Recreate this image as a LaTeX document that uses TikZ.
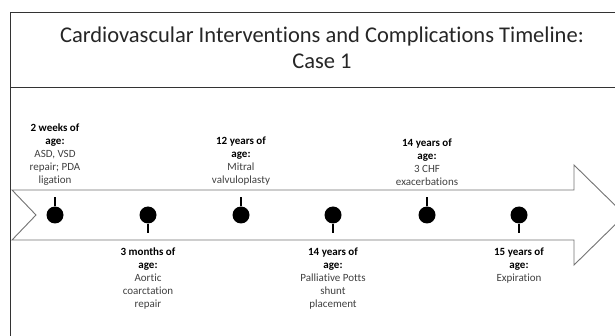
\documentclass[tikz,border=0pt]{standalone}
\usepackage{fontspec}
\setmainfont[Ligatures=NoCommon]{Carlito}
\usepackage{tikz}
\usetikzlibrary{positioning}
\tikzset{
    frame-line/.style = {draw=black!80, line width=0.8pt},
    title-text/.style = {align=center, inner sep=0pt, font=\fontsize{22.5}{26}\selectfont, text=black!85},
    time-arrow/.style = {draw=black!55, fill=white, line width=0.9pt},
    event-dot/.style = {circle, fill=black, minimum size=17pt, inner sep=0pt},
    event-stick/.style = {black, line width=1.5pt},
    event-text/.style = {align=center, inner sep=0pt, font=\fontsize{11}{13}\selectfont, text=black!75},
}
\newcommand{\whenlabel}[1]{\textbf{\color{black}#1}}

\begin{document}
\begin{tikzpicture}[x=1pt, y=-1pt]
\useasboundingbox (0,0) rectangle (615,336);
\clip (0,0) rectangle (615,336);
% frame and title
\draw[frame-line] (10,12) rectangle (640,360);
\draw[frame-line] (10,87) -- (640,87);
\node[title-text] (title) at (322,48) {Cardiovascular Interventions and Complications Timeline:\\Case 1};
% timeline arrow
\draw[time-arrow] (12,190) -- (574,190) -- (574,165) -- (625,215) -- (574,265)
    -- (574,240) -- (12,240) -- (36,215) -- cycle;
% pins
\foreach \x/\dir [count=\i] in {55/-1, 148/1, 241/-1, 333/1, 427/-1, 519/1} {
    \node[event-dot] (dot\i) at (\x,215) {};
    \coordinate (end\i) at (\x,215+18*\dir);
    \draw[event-stick] (dot\i) -- (end\i);
}
% events above
\node[event-text, above=21pt of dot1] (event1) {\whenlabel{2 weeks of}\\\whenlabel{age:}\\ASD, VSD\\repair; PDA\\ligation};
\node[event-text, above=21pt of dot3] (event3) {\whenlabel{12 years of}\\\whenlabel{age:}\\Mitral\\valvuloplasty};
\node[event-text, above=21pt of dot5] (event5) {\whenlabel{14 years of}\\\whenlabel{age:}\\3 CHF\\exacerbations};
% events below
\node[event-text, below=24pt of dot2] (event2) {\whenlabel{3 months of}\\\whenlabel{age:}\\Aortic\\coarctation\\repair};
\node[event-text, below=24pt of dot4] (event4) {\whenlabel{14 years of}\\\whenlabel{age:}\\Palliative Potts\\shunt\\placement};
\node[event-text, below=24pt of dot6] (event6) {\whenlabel{15 years of}\\\whenlabel{age:}\\Expiration};
\end{tikzpicture}
\end{document}
